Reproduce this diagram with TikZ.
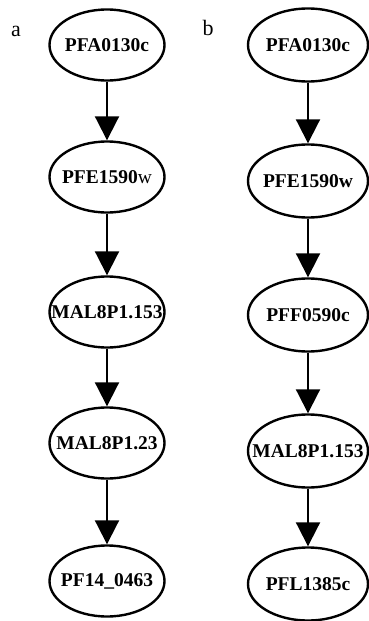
\documentclass[tikz,border=0pt]{standalone}
\usepackage{fontspec}
\setmainfont{Liberation Serif}
\usetikzlibrary{shapes.geometric,arrows.meta}

% gene name, centred but free to run past the ellipse
\newcommand{\gname}[1]{\makebox[0pt]{#1}}

\begin{document}
\begin{tikzpicture}[x=1pt,y=-1pt,
    gene/.style={ellipse, draw, line width=2.4pt, inner sep=0pt,
        minimum width=115pt, minimum height=71pt,
        font=\bfseries\fontsize{19.5}{20}\selectfont},
    genew/.style={gene, minimum width=120pt, minimum height=73pt},
    link/.style={line width=2pt, -{Triangle[width=24pt,length=24pt]}},
    panel/.style={font=\fontsize{22}{22}\selectfont}]
    \useasboundingbox (0,0) rectangle (369,621);

    % x of the two columns
    \def\xa{107}  \def\xb{308}

    % panel a
    \node[panel] (la) at (16,31) {a};
    \node[gene] (a1) at (\xa,45)  {\gname{PFA0130c}};
    \node[gene] (a2) at (\xa,177) {\gname{PFE1590{\mdseries w}}};
    \node[gene] (a3) at (\xa,312) {\gname{MAL8P1.153}};
    \node[gene] (a4) at (\xa,443) {\gname{MAL8P1.23}};
    \node[gene] (a5) at (\xa,581) {\gname{PF14\_0463}};

    % panel b
    \node[panel] (lb) at (208,28) {b};
    \node[genew] (b1) at (\xb,45)  {\gname{PFA0130c}};
    \node[genew] (b2) at (\xb,181) {\gname{PFE1590w}};
    \node[genew] (b3) at (\xb,315) {\gname{PFF0590c}};
    \node[genew] (b4) at (\xb,451) {\gname{MAL8P1.153}};
    \node[genew] (b5) at (\xb,584) {\gname{PFL1385c}};

    % arrows down each column
    \foreach \s/\t in {1/2,2/3,3/4,4/5} {
        \draw[link] (a\s) -- (a\t);
        \draw[link] (b\s) -- (b\t);
    }
\end{tikzpicture}
\end{document}
